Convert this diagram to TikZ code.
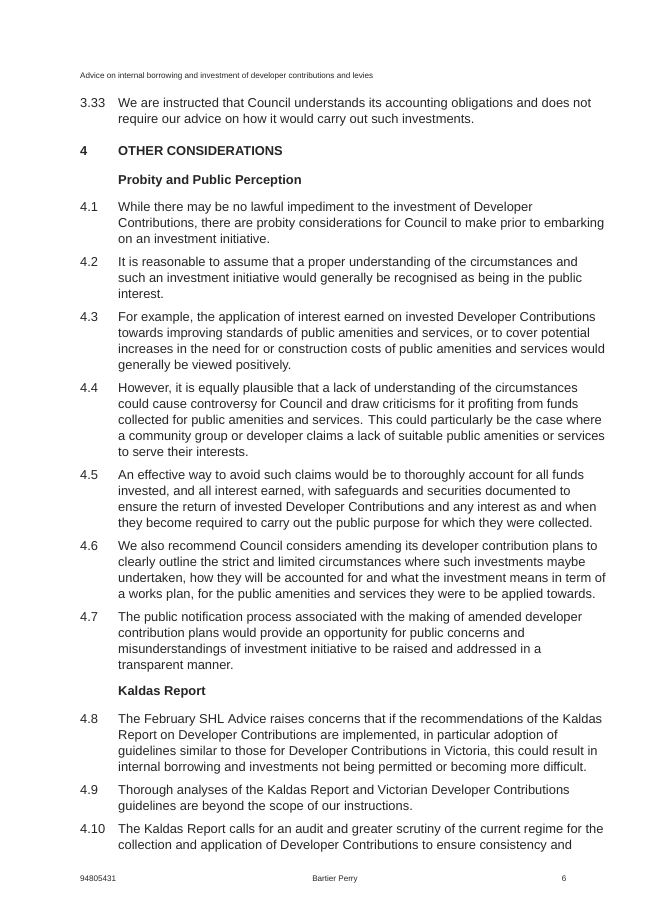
\documentclass[tikz,border=0pt]{standalone}
\usepackage{fontspec}
\setmainfont{Liberation Sans}
\newcommand\plines[3]{\foreach \t [count=\i from 0] in {#3} {\node[txt,anchor=base west] (l#2n\i) at (#1,{-#2-16*\i}) {\t};}}
\begin{document}
\begin{tikzpicture}[x=1pt,y=1pt,txt/.style={inner sep=0pt,font=\fontsize{12.9}{16}\selectfont,text=black!85}]
\useasboundingbox (0,0) rectangle (652,-922);
\fill[white] (0,0) rectangle (652,-922);
\node[txt,anchor=base west,font=\fontsize{8.1}{10}\selectfont] (hdr) at (80,-78) {Advice on internal borrowing and investment of developer contributions and levies};
\plines{80}{107}{3.33}
\plines{118}{107}{{We are instructed that Council understands its accounting obligations and does not},{require our advice on how it would carry out such investments.}}
\node[txt,anchor=base west,font=\fontsize{12.9}{16}\bfseries] (h4) at (80,-155) {4};
\node[txt,anchor=base west,font=\fontsize{12.9}{16}\bfseries] (h4t) at (118,-155) {OTHER CONSIDERATIONS};
\node[txt,anchor=base west,font=\fontsize{12.9}{16}\bfseries] (hp) at (118,-184) {Probity and Public Perception};
\plines{80}{211}{4.1}
\plines{118}{211}{{While there may be no lawful impediment to the investment of Developer},{Contributions, there are probity considerations for Council to make prior to embarking},{on an investment initiative.}}
\plines{80}{266}{4.2}
\plines{118}{266}{{It is reasonable to assume that a proper understanding of the circumstances and},{such an investment initiative would generally be recognised as being in the public},{interest.}}
\plines{80}{321}{4.3}
\plines{118}{321}{{For example, the application of interest earned on invested Developer Contributions},{towards improving standards of public amenities and services, or to cover potential},{increases in the need for or construction costs of public amenities and services would},{generally be viewed positively.}}
\plines{80}{392}{4.4}
\plines{118}{392}{{However, it is equally plausible that a lack of understanding of the circumstances},{could cause controversy for Council and draw criticisms for it profiting from funds},{collected for public amenities and services. This could particularly be the case where},{a community group or developer claims a lack of suitable public amenities or services},{to serve their interests.}}
\plines{80}{479}{4.5}
\plines{118}{479}{{An effective way to avoid such claims would be to thoroughly account for all funds},{invested, and all interest earned, with safeguards and securities documented to},{ensure the return of invested Developer Contributions and any interest as and when},{they become required to carry out the public purpose for which they were collected.}}
\plines{80}{550}{4.6}
\plines{118}{550}{{We also recommend Council considers amending its developer contribution plans to},{clearly outline the strict and limited circumstances where such investments maybe},{undertaken, how they will be accounted for and what the investment means in term of},{a works plan, for the public amenities and services they were to be applied towards.}}
\plines{80}{621}{4.7}
\plines{118}{621}{{The public notification process associated with the making of amended developer},{contribution plans would provide an opportunity for public concerns and},{misunderstandings of investment initiative to be raised and addressed in a},{transparent manner.}}
\node[txt,anchor=base west,font=\fontsize{12.9}{16}\bfseries] (hk) at (118,-695) {Kaldas Report};
\plines{80}{723}{4.8}
\plines{118}{723}{{The February SHL Advice raises concerns that if the recommendations of the Kaldas},{Report on Developer Contributions are implemented, in particular adoption of},{guidelines similar to those for Developer Contributions in Victoria, this could result in},{internal borrowing and investments not being permitted or becoming more difficult.}}
\plines{80}{794}{4.9}
\plines{118}{794}{{Thorough analyses of the Kaldas Report and Victorian Developer Contributions},{guidelines are beyond the scope of our instructions.}}
\plines{80}{833}{4.10}
\plines{118}{833}{{The Kaldas Report calls for an audit and greater scrutiny of the current regime for the},{collection and application of Developer Contributions to ensure consistency and}}
\node[txt,anchor=base west,font=\fontsize{8.1}{10}\selectfont] (f1) at (80,-881) {94805431};
\node[txt,anchor=base,font=\fontsize{8.1}{10}\selectfont] (f2) at (335,-881) {Bartier Perry};
\node[txt,anchor=base,font=\fontsize{8.1}{10}\selectfont] (f3) at (564,-881) {6};
\end{tikzpicture}
\end{document}
